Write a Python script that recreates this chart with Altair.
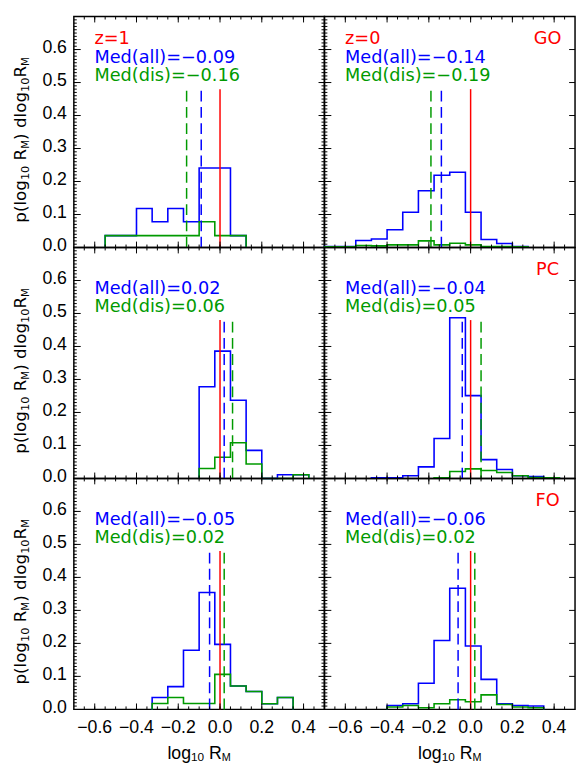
import altair as alt
import pandas as pd

# ---------------- data ----------------
EDGES = [-0.700, -0.625, -0.550, -0.475, -0.400, -0.325, -0.250, -0.175,
         -0.100, -0.025, 0.050, 0.125, 0.200, 0.275, 0.350, 0.425]

PANEL_Z = ["z=1", "z=0", "", "", "", ""]
PANEL_CLASS = ["", "GO", "", "PC", "", "FO"]

# first bin index of each histogram (all galaxies)
ALL_START = [2, 0, 8, 3, 5, 4]
ALL_GO_Z1 = [0.036, 0.036, 0.118, 0.078, 0.118, 0.078, 0.241, 0.241, 0.036]
ALL_GO_Z0 = [0.003, 0.003, 0.021, 0.026, 0.054, 0.107, 0.172, 0.219, 0.228,
             0.107, 0.024, 0.012, 0.003]
ALL_PC_Z1 = [0.278, 0.386, 0.237, 0.085, 0.0, 0.011, 0.011]
ALL_PC_Z0 = [0.002, 0.002, 0.008, 0.035, 0.121, 0.487, 0.251, 0.057, 0.027,
             0.008, 0.006, 0.002]
ALL_FO_Z1 = [0.036, 0.069, 0.179, 0.354, 0.197, 0.071, 0.054, 0.017, 0.036]
ALL_FO_Z0 = [0.012, 0.017, 0.079, 0.209, 0.367, 0.192, 0.091, 0.017, 0.012, 0.010]

# first bin index of each histogram (disturbed)
DIS_START = [2, 0, 8, 7, 5, 4]
DIS_GO_Z1 = [0.036, 0.036, 0.036, 0.036, 0.036, 0.036, 0.078, 0.036, 0.036]
DIS_GO_Z0 = [0.002, 0.002, 0.006, 0.005, 0.008, 0.008, 0.020, 0.008, 0.013,
             0.008, 0.003, 0.003, 0.002]
DIS_PC_Z1 = [0.030, 0.064, 0.108, 0.044, 0.0, 0.0, 0.011]
DIS_PC_Z0 = [0.002, 0.021, 0.029, 0.024, 0.018, 0.008, 0.003, 0.002]
DIS_FO_Z1 = [0.018, 0.036, 0.018, 0.018, 0.106, 0.071, 0.054, 0.017, 0.036]
DIS_FO_Z0 = [0.007, 0.012, 0.005, 0.017, 0.029, 0.023, 0.044, 0.015, 0.007, 0.005]

ALL_VALUES = [ALL_GO_Z1, ALL_GO_Z0, ALL_PC_Z1, ALL_PC_Z0, ALL_FO_Z1, ALL_FO_Z0]
DIS_VALUES = [DIS_GO_Z1, DIS_GO_Z0, DIS_PC_Z1, DIS_PC_Z0, DIS_FO_Z1, DIS_FO_Z0]

MED_ALL = [-0.09, -0.14, 0.02, -0.04, -0.05, -0.06]
MED_DIS = [-0.16, -0.19, 0.06, 0.05, 0.02, 0.02]

X_TICK_LABELS = [-0.6, -0.4, -0.2, 0.0, 0.2, 0.4]
Y_TICK_LABELS = [0.0, 0.1, 0.2, 0.3, 0.4, 0.5, 0.6]
X_MAJOR = [-0.6, -0.4, -0.2, 0.0, 0.2, 0.4]
Y_MAJOR = [0.1, 0.2, 0.3, 0.4, 0.5, 0.6]
X_MINOR = [round(-0.70 + 0.05 * i, 3) for i in range(1, 24)]
Y_MINOR = [round(0.01 * i, 3) for i in range(1, 70)]

# title pieces: (text, font size, baseline shift); "_" is a gap of one space
X_TITLE = [("log", 18, 0), ("10", 12, 3), ("_", 18, 0), ("R", 18, 0), ("M", 11, 3)]
Y_TITLE = [("p(log", 17, 0), ("10", 11.5, 3), ("_", 17, 0), ("R", 17, 0),
           ("M", 10.5, 3), (")", 17, 0), ("_", 17, 0), ("dlog", 17, 0),
           ("10", 11.5, 3), ("R", 17, 0), ("M", 10.5, 3)]

# ---------------- style ----------------
X_DOMAIN = [-0.7, 0.5]
Y_DOMAIN = [0.0, 0.7]
LINE_TOP = 0.48
W, H = 255, 235
BLUE = "#0000ff"
GREEN = "#009a00"
RED = "#ff0000"
TXT_FONT = "DejaVu Sans"
LBL_FONT = "Liberation Sans"
TICK_FS = 18

DJ = {"p": .635, "(": .390, ")": .390, "l": .278, "o": .612, "g": .635, "_": .318,
      "R": .695, "d": .635, "M": .863, "1": .636, "0": .636}
LB = {"p": .556, "(": .333, ")": .333, "l": .222, "o": .556, "g": .556, "_": .278,
      "R": .722, "d": .556, "M": .833, "1": .556, "0": .556}

xs = alt.Scale(domain=X_DOMAIN, nice=False, zero=False)
ys = alt.Scale(domain=Y_DOMAIN, nice=False, zero=False)


def twidth(s, size, table):
    return sum(table[c] for c in s) * size


def step_frame(start, values):
    xv = [EDGES[start]]
    yv = [0.0]
    for i, v in enumerate(values):
        xv.append(EDGES[start + i])
        yv.append(v)
    xv.append(EDGES[start + len(values)])
    yv.append(0.0)
    return pd.DataFrame({"x": xv, "y": yv, "i": list(range(len(xv)))})


def fmt(v, nd=2):
    return f"{v:.{nd}f}".replace("-", "\u2212")


def xticks(vals, length, top):
    y0 = 0 if top else H
    y1 = length if top else H - length
    return alt.Chart(pd.DataFrame({"v": vals})).mark_rule(
        color="black", strokeWidth=1
    ).encode(x=alt.X("v:Q", scale=xs, axis=None), y=alt.value(y0), y2=alt.value(y1))


def yticks(vals, length, right):
    x0 = W if right else 0
    x1 = W - length if right else length
    return alt.Chart(pd.DataFrame({"v": vals})).mark_rule(
        color="black", strokeWidth=1
    ).encode(y=alt.Y("v:Q", scale=ys, axis=None), x=alt.value(x0), x2=alt.value(x1))


def vline(val, color, dash):
    df = pd.DataFrame({"m": [val], "y0": [0.0], "y1": [LINE_TOP]})
    kw = dict(color=color, strokeWidth=1.5)
    if dash:
        kw["strokeDash"] = [11, 5.5]
    return alt.Chart(df).mark_rule(**kw).encode(
        x=alt.X("m:Q", scale=xs, axis=None),
        y=alt.Y("y0:Q", scale=ys, axis=None),
        y2="y1:Q",
    )


def label(txt, color, x, y, align="left"):
    return alt.Chart(pd.DataFrame({"t": [txt]})).mark_text(
        align=align, baseline="middle", font=TXT_FONT, fontSize=18, color=color
    ).encode(x=alt.value(x), y=alt.value(y), text="t:N")


def piece(txt, size, font, x, y, angle=0):
    kw = dict(align="left", baseline="alphabetic", font=font, fontSize=size,
              color="black")
    if angle:
        kw["angle"] = angle
    return alt.Chart(pd.DataFrame({"t": [txt]})).mark_text(**kw).encode(
        x=alt.value(x), y=alt.value(y), text="t:N")


def x_title_layers():
    total = sum(twidth(t, s, LB) for t, s, _ in X_TITLE)
    cur = W / 2 - total / 2
    out = []
    for t, s, d in X_TITLE:
        if t != "_":
            out.append(piece(t, s, LBL_FONT, cur, H + 50 + d))
        cur += twidth(t, s, LB)
    return out


def y_title_layers():
    total = sum(twidth(t, s, DJ) for t, s, _ in Y_TITLE)
    cur = 125.5 + total / 2
    out = []
    for t, s, d in Y_TITLE:
        if t != "_":
            out.append(piece(t, s, TXT_FONT, -49 + d, cur, angle=270))
        cur -= twidth(t, s, DJ)
    return out


def panel(k):
    row, col = divmod(k, 2)

    blue = alt.Chart(step_frame(ALL_START[k], ALL_VALUES[k])).mark_line(
        interpolate="step-after", color=BLUE, strokeWidth=1.6
    ).encode(x=alt.X("x:Q", scale=xs, axis=None),
             y=alt.Y("y:Q", scale=ys, axis=None),
             order="i:Q")
    green = alt.Chart(step_frame(DIS_START[k], DIS_VALUES[k])).mark_line(
        interpolate="step-after", color=GREEN, strokeWidth=1.6
    ).encode(x=alt.X("x:Q", scale=xs, axis=None),
             y=alt.Y("y:Q", scale=ys, axis=None),
             order="i:Q")

    layers = [blue, green,
              vline(0.0, RED, False),
              vline(MED_ALL[k], BLUE, True),
              vline(MED_DIS[k], GREEN, True),
              xticks(X_MINOR, 3, False), xticks(X_MAJOR, 6, False),
              xticks(X_MINOR, 3, True), xticks(X_MAJOR, 6, True),
              yticks(Y_MINOR, 3, False), yticks(Y_MAJOR, 7, False),
              yticks(Y_MAJOR, 6, True)]
    if col == 0:
        layers.append(yticks(Y_MINOR, 3, True))
        ylab = pd.DataFrame({"v": Y_TICK_LABELS,
                             "t": [fmt(v, 1) for v in Y_TICK_LABELS]})
        layers.append(alt.Chart(ylab).mark_text(
            align="right", baseline="middle", font=LBL_FONT, fontSize=TICK_FS,
            color="black", dy=-1
        ).encode(y=alt.Y("v:Q", scale=ys, axis=None), x=alt.value(-7), text="t:N"))
        layers += y_title_layers()
    if row == 2:
        xlab = pd.DataFrame({"v": X_TICK_LABELS,
                             "t": [fmt(v, 1) for v in X_TICK_LABELS]})
        layers.append(alt.Chart(xlab).mark_text(
            align="center", baseline="middle", font=LBL_FONT, fontSize=TICK_FS,
            color="black"
        ).encode(x=alt.X("v:Q", scale=xs, axis=None), y=alt.value(H + 19), text="t:N"))
        layers += x_title_layers()
    if PANEL_Z[k]:
        layers.append(label(PANEL_Z[k], RED, 21, 23))
    if PANEL_CLASS[k]:
        layers.append(label(PANEL_CLASS[k], RED, 227, 23, align="center"))
    layers.append(label("Med(all)=" + fmt(MED_ALL[k]), BLUE, 21, 42))
    layers.append(label("Med(dis)=" + fmt(MED_DIS[k]), GREEN, 21, 61))
    return alt.layer(*layers).properties(width=W, height=H)


chart = alt.concat(*[panel(k) for k in range(6)], columns=2, spacing=0,
                   bounds="flush").properties(
    padding={"left": 3, "top": 0, "right": 0, "bottom": 0}
).configure_view(stroke="black", strokeWidth=1.5)

chart.save("out.html", embed_options={"renderer": "svg", "actions": False})
